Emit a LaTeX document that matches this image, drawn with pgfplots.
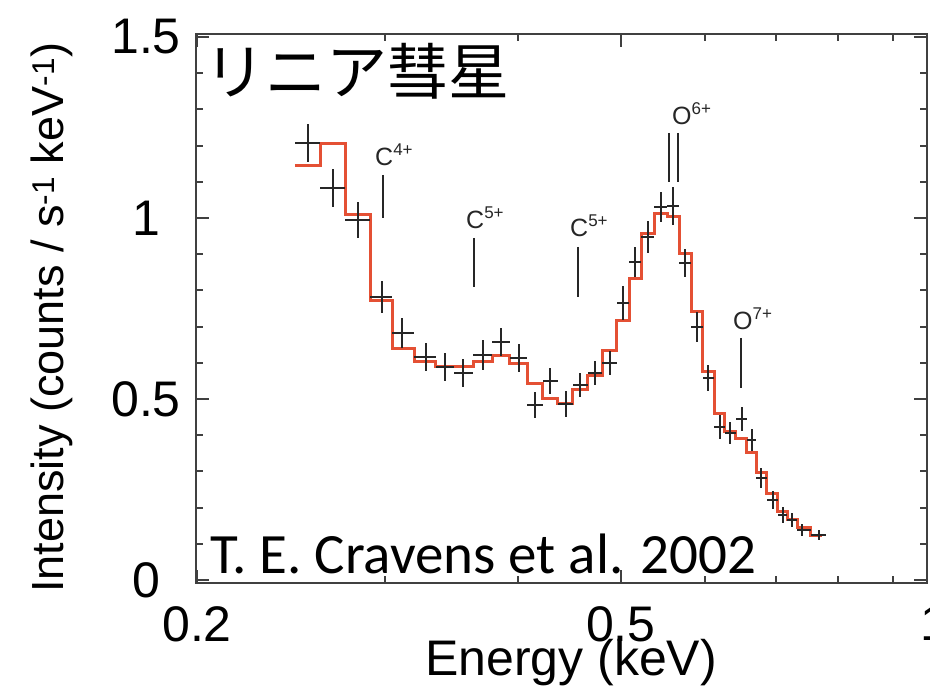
\documentclass[border=0pt]{standalone}
\usepackage{fontspec}
\setmainfont{Liberation Sans}
\newfontfamily\cjk{Noto Sans CJK JP}
\newfontfamily\calibri{Carlito}
\usepackage{pgfplots}
\pgfplotsset{compat=1.18}
\usepackage{pgfplotstable}
\usetikzlibrary{calc}
\definecolor{modelred}{RGB}{228,80,52}
\newcommand\ion[2]{#1\raisebox{10pt}{\fontsize{17}{17}\selectfont #2}}

\pgfplotstableread{
x y xm xp ye
0.2542 1.207 0.0070 0.0070 0.052
0.2684 1.083 0.0072 0.0073 0.052
0.2833 0.994 0.0076 0.0075 0.050
0.2984 0.782 0.0076 0.0065 0.044
0.3116 0.682 0.0067 0.0082 0.041
0.3282 0.616 0.0084 0.0068 0.039
0.3420 0.588 0.0070 0.0066 0.039
0.3554 0.572 0.0068 0.0079 0.039
0.3711 0.622 0.0078 0.0074 0.041
0.3859 0.657 0.0074 0.0076 0.039
0.4012 0.613 0.0077 0.0071 0.039
0.4154 0.483 0.0071 0.0068 0.036
0.4290 0.550 0.0068 0.0075 0.036
0.4442 0.486 0.0077 0.0067 0.036
0.4578 0.539 0.0069 0.0075 0.033
0.4729 0.572 0.0076 0.0077 0.033
0.4884 0.599 0.0078 0.0070 0.033
0.5024 0.765 0.0070 0.0066 0.047
0.5156 0.878 0.0066 0.0073 0.041
0.5302 0.948 0.0073 0.0076 0.044
0.5453 1.030 0.0075 0.0073 0.041
0.5596 1.033 0.0070 0.0075 0.052
0.5744 0.876 0.0073 0.0076 0.039
0.5896 0.699 0.0076 0.0071 0.041
0.6038 0.558 0.0071 0.0079 0.036
0.6196 0.423 0.0079 0.0068 0.033
0.6332 0.406 0.0068 0.0082 0.030
0.6498 0.445 0.0084 0.0071 0.033
0.6640 0.387 0.0071 0.0065 0.030
0.6770 0.282 0.0065 0.0089 0.028
0.6948 0.221 0.0089 0.0076 0.025
0.7100 0.180 0.0076 0.0070 0.022
0.7240 0.166 0.0070 0.0079 0.019
0.7398 0.138 0.0079 0.0138 0.017
0.7674 0.124 0.0138 0.0119 0.014
}\datatab

\pgfplotstableread{
x y
0.2472 1.145
0.2612 1.207
0.2757 1.011
0.2908 0.773
0.3049 0.640
0.3198 0.603
0.3350 0.589
0.3486 0.589
0.3633 0.603
0.3785 0.619
0.3935 0.599
0.4083 0.543
0.4222 0.502
0.4365 0.488
0.4509 0.525
0.4653 0.566
0.4806 0.635
0.4954 0.718
0.5090 0.833
0.5229 0.958
0.5378 1.013
0.5526 1.005
0.5671 0.903
0.5820 0.741
0.5967 0.575
0.6117 0.460
0.6264 0.410
0.6414 0.390
0.6569 0.351
0.6705 0.298
0.6859 0.240
0.7024 0.188
0.7170 0.166
0.7319 0.144
0.7536 0.122
0.7726 0.122
}\modeltab

\begin{document}
\begin{tikzpicture}
\begin{axis}[
  name=ax,
  scale only axis,
  width=731pt, height=549pt,
  xmode=log,
  xmin=0.1996, xmax=0.9694,
  ymin=-0.0083, ymax=1.5083,
  xtick={0.2,0.5}, xticklabels={0.2,0.5},
  minor xtick={0.3,0.4,0.6,0.7,0.8,0.9},
  ytick={0,0.5,1,1.5}, yticklabels={0,0.5,1,1.5},
  minor ytick={0.1,0.2,0.3,0.4,0.6,0.7,0.8,0.9,1.1,1.2,1.3,1.4},
  tick align=inside,
  major tick length=13pt, minor tick length=7pt,
  every tick/.style={black!75, line width=2pt},
  axis line style={black!75, line width=2.5pt},
  /pgf/number format/assume math mode=true,
  tick label style={font=\fontsize{50}{60}\selectfont},
  yticklabel style={anchor=center, xshift=-50pt},
  xticklabel style={anchor=north, inner sep=0pt, yshift=-23pt},
  xlabel={Energy (keV)},
  ylabel={Intensity (counts / s\textsuperscript{-1} keV\textsuperscript{-1})},
  xlabel style={font=\fontsize{50}{60}\selectfont, at={(axis description cs:0.513,-0.1676)}, anchor=base},
  ylabel style={font=\fontsize{45}{54}\selectfont, at={(axis description cs:-0.197,0.483)}, anchor=center},
  clip=false,
]
\addplot[const plot, modelred, line width=3pt] table[x=x, y=y] {\modeltab};
\addplot[draw=none, mark=none, forget plot,
  error bars/.cd, x dir=both, x explicit, y dir=both, y explicit,
  error mark=none, error bar style={draw=black!85, line width=1.8pt}]
  table[x=x, y=y, x error minus=xm, x error plus=xp, y error=ye] {\datatab};

% line identifications
\draw[line width=2.5pt, black!85] (axis cs:0.2990,1.119) -- (axis cs:0.2990,1.000);
\draw[line width=2.5pt, black!85] (axis cs:0.3640,0.945) -- (axis cs:0.3640,0.809);
\draw[line width=2.5pt, black!85] (axis cs:0.4558,0.920) -- (axis cs:0.4558,0.782);
\draw[line width=2.5pt, black!85] (axis cs:0.5550,1.235) -- (axis cs:0.5550,1.099);
\draw[line width=2.5pt, black!85] (axis cs:0.5659,1.235) -- (axis cs:0.5659,1.099);
\draw[line width=2.5pt, black!85] (axis cs:0.6484,0.669) -- (axis cs:0.6484,0.530);

\node[anchor=base west, inner sep=0pt, font=\fontsize{25}{25}\selectfont, text=black!85] at (axis cs:0.2939,1.146) {\ion{C}{4+}};
\node[anchor=base west, inner sep=0pt, font=\fontsize{25}{25}\selectfont, text=black!85] at (axis cs:0.3578,0.972) {\ion{C}{5+}};
\node[anchor=base west, inner sep=0pt, font=\fontsize{25}{25}\selectfont, text=black!85] at (axis cs:0.4480,0.9475) {\ion{C}{5+}};
\node[anchor=base west, inner sep=0pt, font=\fontsize{25}{25}\selectfont, text=black!85] at (axis cs:0.5586,1.257) {\ion{O}{6+}};
\node[anchor=base west, inner sep=0pt, font=\fontsize{25}{25}\selectfont, text=black!85] at (axis cs:0.6373,0.691) {\ion{O}{7+}};

\node[anchor=north, inner sep=0pt, yshift=-23pt, font=\fontsize{50}{60}\selectfont] at (axis cs:0.984,-0.0083) {1};
\end{axis}

\node[anchor=base west, inner sep=0pt, font=\cjk\fontsize{61}{61}\selectfont] at ($(ax.south west)+(8pt,488pt)$) {リニア彗星};
\node[anchor=base west, inner sep=0pt, font=\calibri\fontsize{57}{57}\selectfont] at ($(ax.south west)+(14pt,9pt)$) {T. E. Cravens et al. 2002};

\pgfresetboundingbox
\path[use as bounding box] ($(ax.south west)+(-196pt,-104pt)$) rectangle ($(ax.south west)+(734pt,583pt)$);
\end{tikzpicture}
\end{document}
